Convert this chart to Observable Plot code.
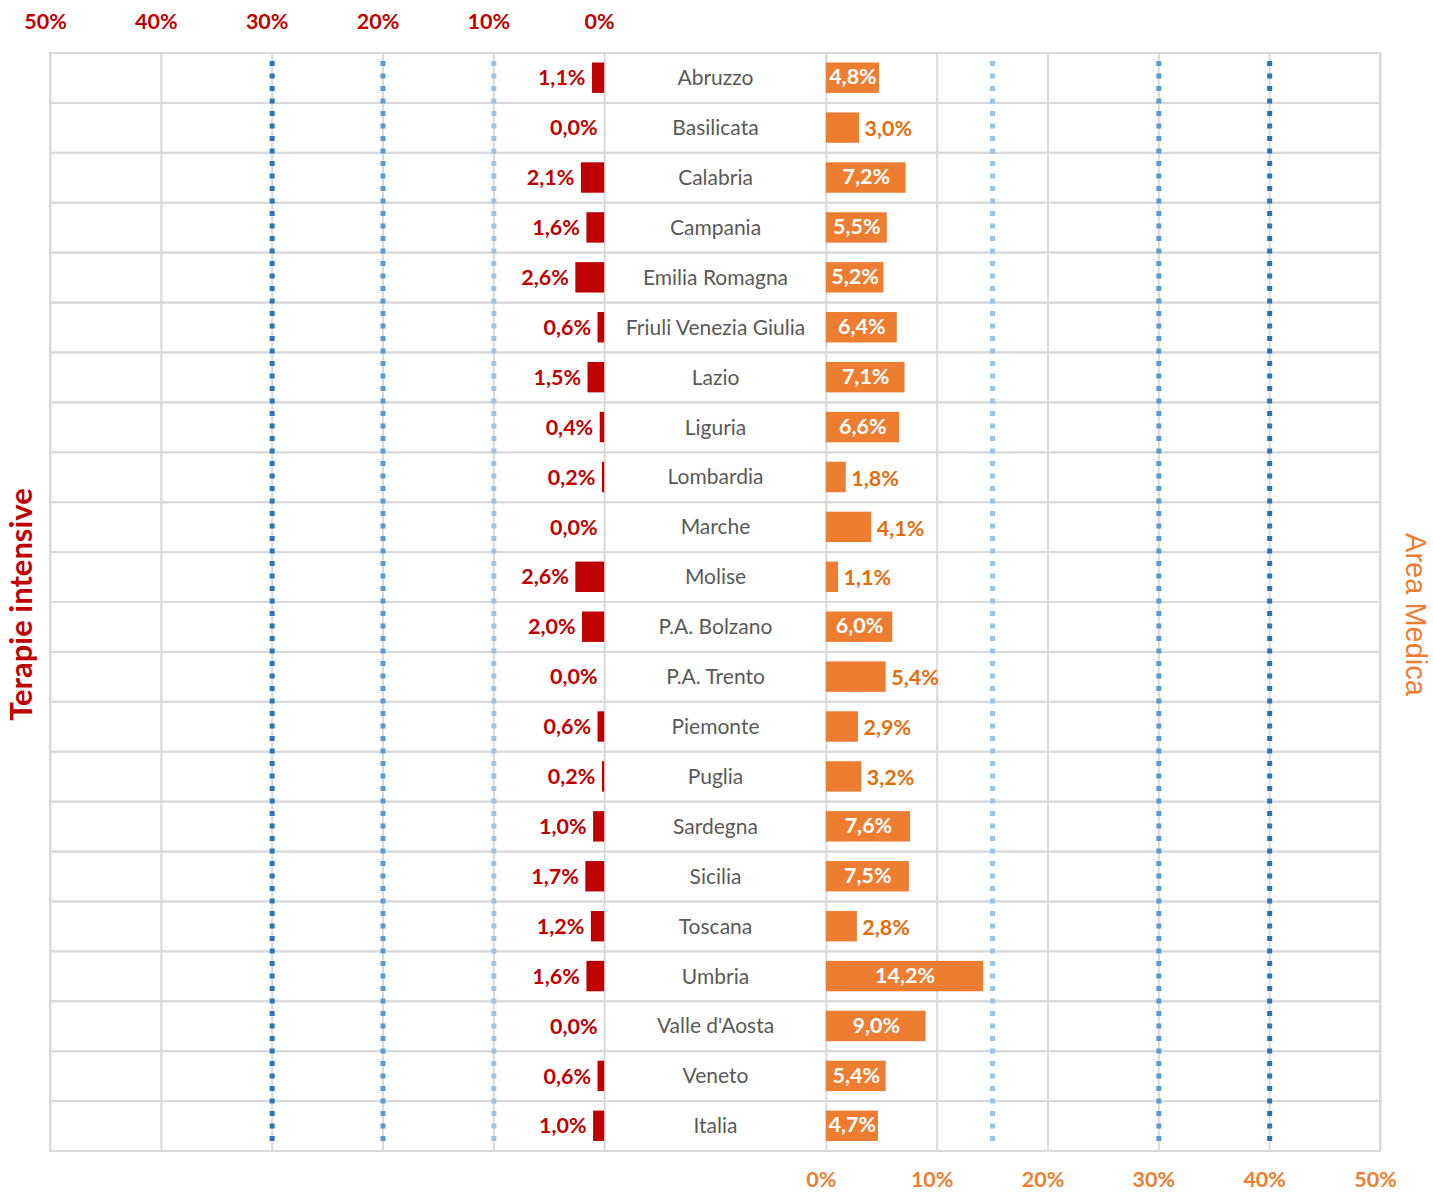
<!DOCTYPE html>
<html>
<head>
<meta charset="utf-8">
<script src="https://cdn.jsdelivr.net/npm/d3@7"></script>
<script src="https://cdn.jsdelivr.net/npm/@observablehq/plot@0.6"></script>
<style>
  body { margin: 0; background: #fff; }
  #chart svg { display: block; }
</style>
</head>
<body>
<div id="chart"></div>
<script>
// ---- data ----
const regions = ["Abruzzo","Basilicata","Calabria","Campania","Emilia Romagna","Friuli Venezia Giulia","Lazio","Liguria","Lombardia","Marche","Molise","P.A. Bolzano","P.A. Trento","Piemonte","Puglia","Sardegna","Sicilia","Toscana","Umbria","Valle d'Aosta","Veneto","Italia"];
const terapieIntensive = [1.1,0.0,2.1,1.6,2.6,0.6,1.5,0.4,0.2,0.0,2.6,2.0,0.0,0.6,0.2,1.0,1.7,1.2,1.6,0.0,0.6,1.0];
const areaMedica = [4.8,3.0,7.2,5.5,5.2,6.4,7.1,6.6,1.8,4.1,1.1,6.0,5.4,2.9,3.2,7.6,7.5,2.8,14.2,9.0,5.4,4.7];
const leftTicks = [50,40,30,20,10,0];
const rightTicks = [0,10,20,30,40,50];
// threshold reference lines (percent) per side
const tiThresholds = [30,20,10];
const amThresholds = [15,30,40];
// regions whose Area Medica label sits outside the bar
const amLabelOutside = ["Basilicata","Lombardia","Marche","Molise","P.A. Trento","Piemonte","Puglia","Toscana"];

// ---- layout helpers ----
const GAP = 20;            // width of the central label band, in percent units
const MAXV = 50;
const fmt = v => v.toFixed(1).replace(".", ",") + "%";

const rows = regions.map((r, i) => ({region: r, ti: terapieIntensive[i], am: areaMedica[i]}));

const red = "#C00000", orange = "#ED7D31";
const thrColors = {dark: "#2E75B6", mid: "#5B9BD5", light: "#9DC3E6"};
const tiLines = tiThresholds.map((t, i) => ({x: -t, c: [thrColors.dark, thrColors.mid, thrColors.light][i]}));
const amLines = amThresholds.map((t, i) => ({x: GAP + t, c: [thrColors.light, thrColors.mid, thrColors.dark][i]}));

const font = "Lato, 'Open Sans', sans-serif";

const chart = Plot.plot({
  width: 1433,
  height: 1194,
  marginTop: 53,
  marginBottom: 43,
  marginLeft: 50,
  marginRight: 53,
  style: {fontFamily: font, background: "#fff"},
  x: {type: "linear", domain: [-MAXV, GAP + MAXV], axis: null},
  y: {type: "band", domain: regions, padding: 0, round: false, axis: null},
  marks: [
    // row boxes -> horizontal gridlines + frame
    Plot.barX(rows, {y: "region", x1: -MAXV, x2: GAP + MAXV, fill: "none", stroke: "#D9D9D9", strokeWidth: 2}),
    // vertical gridlines
    Plot.ruleX(leftTicks.map(t => -t), {stroke: "#D9D9D9", strokeWidth: 2}),
    Plot.ruleX(rightTicks.map(t => GAP + t), {stroke: "#D9D9D9", strokeWidth: 2}),
    // threshold dotted lines
    Plot.ruleX(tiLines, {x: "x", stroke: "c", strokeWidth: 5, strokeDasharray: "5 7.5", insetTop: 8, insetBottom: 4}),
    Plot.ruleX(amLines, {x: "x", stroke: "c", strokeWidth: 5, strokeDasharray: "5 7.5", insetTop: 8, insetBottom: 4}),
    // bars
    Plot.barX(rows, {y: "region", x1: 0, x2: d => -d.ti, fill: red, insetTop: 9.5, insetBottom: 10}),
    Plot.barX(rows, {y: "region", x1: GAP, x2: d => GAP + d.am, fill: orange, insetTop: 9.5, insetBottom: 10}),
    // category names
    Plot.text(rows, {y: "region", x: GAP / 2, text: "region", fill: "#595959", fontSize: 21, textAnchor: "middle"}),
    // left value labels
    Plot.text(rows, {y: "region", x: d => -d.ti, text: d => fmt(d.ti), fill: red, fontSize: 21.5, fontWeight: "bold", textAnchor: "end", dx: -7}),
    // right value labels: inside (white, centered) or outside (orange)
    Plot.text(rows.filter(d => !amLabelOutside.includes(d.region)), {y: "region", x: d => GAP + d.am / 2, text: d => fmt(d.am), fill: "#fff", fontSize: 21.5, fontWeight: "bold", textAnchor: "middle", dy: -1}),
    Plot.text(rows.filter(d => amLabelOutside.includes(d.region)), {y: "region", x: d => GAP + d.am, text: d => fmt(d.am), fill: "#E46C0A", fontSize: 21.5, fontWeight: "bold", textAnchor: "start", dx: 5, dy: 1}),
    // axes
    Plot.axisX(leftTicks.map(t => -t), {anchor: "top", tickSize: 0, tickPadding: 25, tickFormat: d => Math.abs(d) + "%", fill: red, fontSize: 21.5, fontWeight: "bold", dx: -5, label: null}),
    Plot.axisX(rightTicks.map(t => GAP + t), {anchor: "bottom", tickSize: 0, tickPadding: 20, tickFormat: d => (d - GAP) + "%", fill: orange, fontSize: 21.5, fontWeight: "bold", dx: -5, label: null}),
    // side titles
    Plot.text(["Terapie intensive"], {frameAnchor: "left", dx: -28, dy: 2, rotate: -90, textAnchor: "middle", fill: red, fontSize: 31, fontWeight: "bold"}),
    Plot.text(["Area Medica"], {frameAnchor: "right", dx: 35, dy: 12, rotate: 90, textAnchor: "middle", fill: orange, fontSize: 29, fontFamily: "'Liberation Sans', Arial, sans-serif"})
  ]
});
document.getElementById("chart").appendChild(chart);
</script>
</body>
</html>
